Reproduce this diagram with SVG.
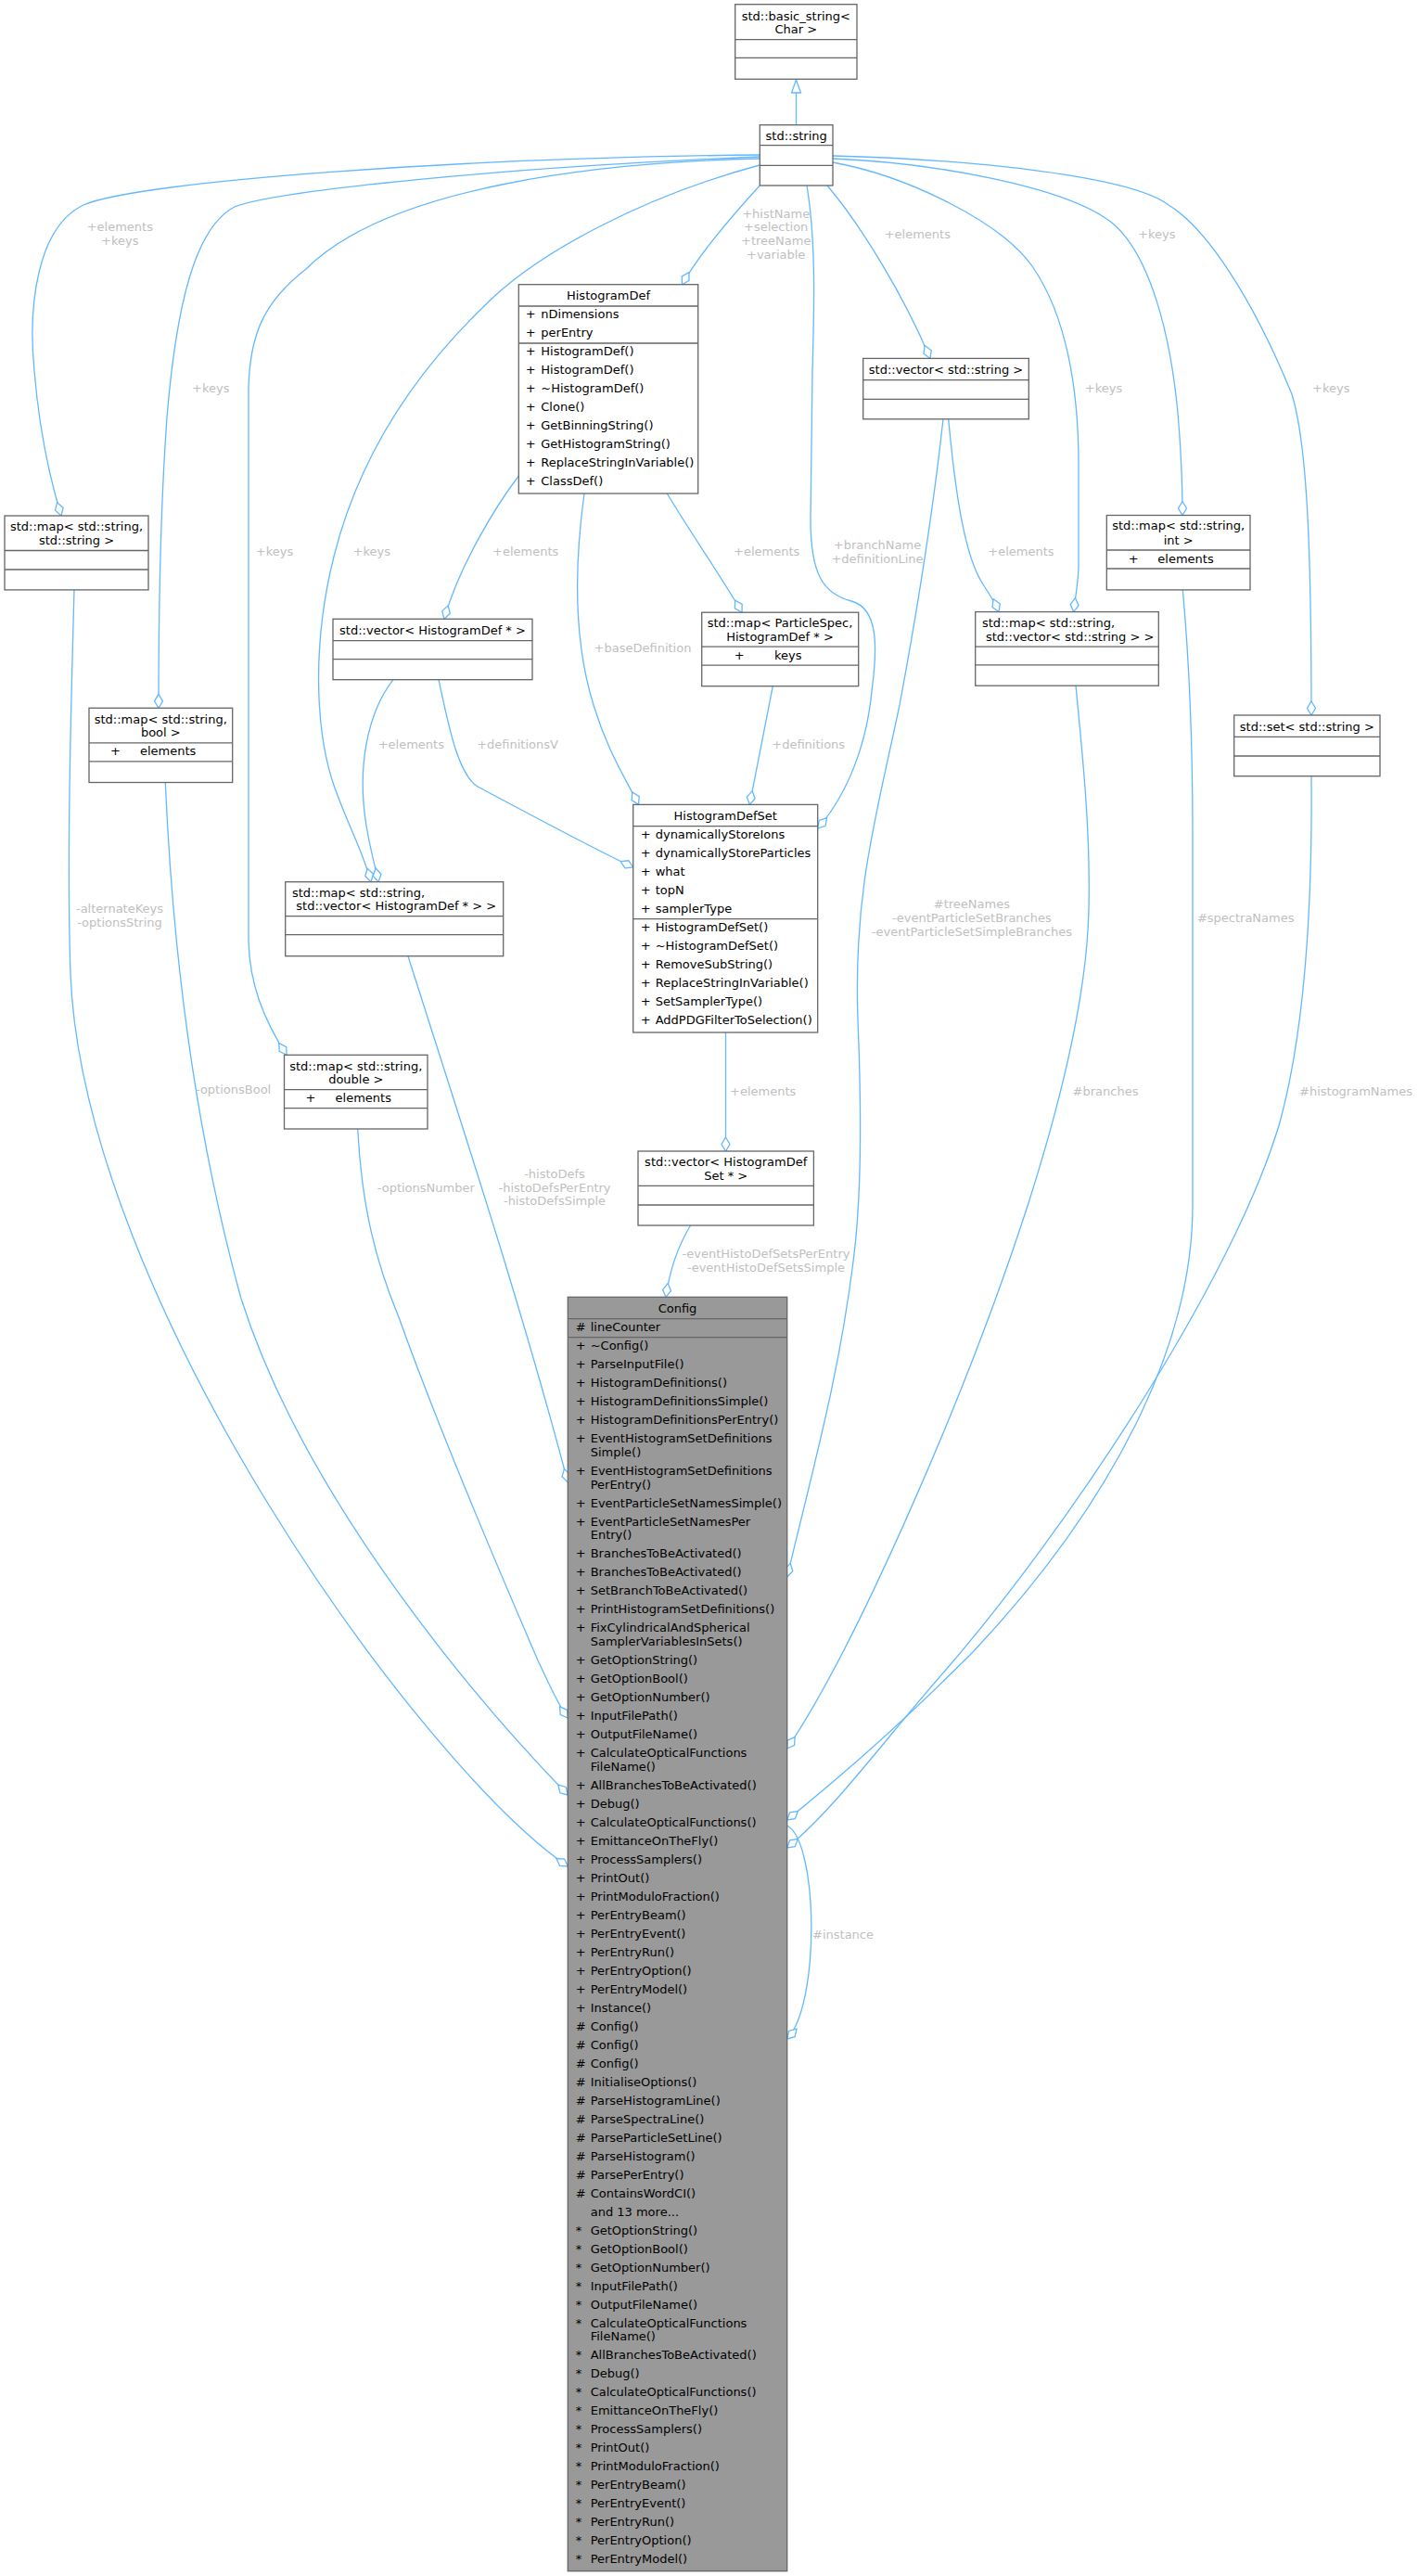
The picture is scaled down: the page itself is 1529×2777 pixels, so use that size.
<svg xmlns="http://www.w3.org/2000/svg" width="1529" height="2777" viewBox="0 0 1529 2777">
<style>
.bx{fill:#fff;stroke:#666;stroke-width:1.3}
.main{fill:#999;stroke:#666;stroke-width:1.3}
.sep{stroke:#666;stroke-width:1.3}
.t{font-family:"DejaVu Sans",sans-serif;font-size:13px;fill:#000}
.c{text-anchor:middle}
.lb{font-family:"DejaVu Sans",sans-serif;font-size:13px;fill:#c0c0c0;text-anchor:middle}
.e{fill:none;stroke:#63b8ff;stroke-width:1.3}
.ag{marker-end:url(#dia)}
</style>
<defs>
<marker id="dia" markerUnits="userSpaceOnUse" markerWidth="17" markerHeight="11" viewBox="0 0 17 11" refX="16" refY="5.5" orient="auto">
<path d="M1,5.5 L8.5,1 L16,5.5 L8.5,10 Z" fill="#fff" stroke="#63b8ff" stroke-width="1.3"/>
</marker>
<marker id="tri" markerUnits="userSpaceOnUse" markerWidth="16" markerHeight="12" viewBox="0 0 16 12" refX="15" refY="6" orient="auto">
<path d="M1,1 L15,6 L1,11 Z" fill="#fff" stroke="#63b8ff" stroke-width="1.3"/>
</marker>
</defs>
<rect width="1529" height="2777" fill="#fff"/>

<g id="edges">
<path class="e" marker-end="url(#tri)" d="M858.5,134.7 L858.5,86"/>
<path class="e ag" d="M819.3,200 C 790,232 755,272 735.5,306.7"/>
<path class="e ag" d="M819,167 C 500,170 150,195 90,221 C 40,245 30,330 37,400 C 42,460 52,510 66,556"/>
<path class="e ag" d="M819,169 C 550,180 300,205 253,223 C 210,245 190,330 180,450 C 172,560 171,680 171,763.3"/>
<path class="e ag" d="M819,171 C 650,175 420,200 330,290 C 285,325 269,360 268,420 L268,1010 C 268,1060 285,1100 309,1137.3"/>
<path class="e ag" d="M819,178 C 700,210 580,270 520,332 C 440,410 385,500 360,600 C 335,700 340,800 365,860 C 378,895 392,920 400,950.7"/>
<path class="e ag" d="M892,200 C 930,245 975,320 1003,386.4"/>
<path class="e ag" d="M870,200 C 880,260 878,330 876,400 L874,560 C 874,620 888,640 918,648 C 948,656 946,700 940,745 C 935,800 915,855 881.7,893"/>
<path class="e ag" d="M898,175 C 980,190 1080,240 1113,287 C 1150,340 1163,420 1163,500 L1163,610 C 1163,625 1160,640 1157.7,659.6"/>
<path class="e ag" d="M898,171 C 1000,175 1150,200 1200,241 C 1240,275 1262,360 1270,445 C 1274,490 1275,520 1275,555.5"/>
<path class="e ag" d="M898,168 C 1050,172 1220,190 1260,221 C 1300,245 1350,320 1393,425 C 1410,480 1414,600 1414,771"/>
<path class="e ag" d="M559.3,513 C 535,545 495,610 479,667.3"/>
<path class="e ag" d="M630,532 C 622,590 615,680 640,760 C 655,810 675,840 688.5,867.4"/>
<path class="e ag" d="M719.3,532 C 745,575 780,625 800,660.2"/>
<path class="e ag" d="M424,732.7 C 395,770 385,830 395,890 C 400,920 405,935 408,950.7"/>
<path class="e ag" d="M473,732.7 C 485,790 495,835 515,848 C 560,872 640,915 682.7,935"/>
<path class="e ag" d="M833.3,739.7 L808.3,867.4"/>
<path class="e ag" d="M1022.7,451.8 C 1030,530 1040,600 1060,630 C 1068,642 1073,650 1077,659.6"/>
<path class="e ag" d="M782.5,1113 L782.5,1241"/>
<path class="e ag" d="M744.6,1321 C 730,1345 722,1370 718,1398.3"/>
<path class="e ag" d="M440,1030.7 C 500,1220 560,1400 612.3,1598"/>
<path class="e ag" d="M385.7,1217 C 390,1300 405,1360 430,1420 C 480,1560 550,1720 580,1790 C 592,1815 600,1835 612.3,1852"/>
<path class="e ag" d="M178.3,843.5 C 185,1000 205,1200 260,1400 C 330,1620 520,1840 612.3,1935"/>
<path class="e ag" d="M80,635.9 C 76,780 72,930 76,1050 C 90,1400 450,1900 612.3,2012"/>
<path class="e ag" d="M1017,451.8 C 1005,560 985,680 970,760 C 945,880 920,960 925,1100 C 930,1220 928,1300 920,1360 C 905,1480 880,1570 848.7,1700"/>
<path class="e ag" d="M1160,739.2 C 1168,820 1176,900 1174,980 C 1172,1080 1140,1200 1108,1300 C 1040,1510 920,1780 848.7,1885"/>
<path class="e ag" d="M1275.3,635.9 C 1283,720 1286,800 1286,900 L1286,1300 C 1286,1450 1200,1620 1050,1780 C 960,1870 900,1920 848.7,1962"/>
<path class="e ag" d="M1414,836.7 C 1415,950 1410,1100 1380,1210 C 1330,1380 1150,1650 1020,1800 C 950,1880 900,1950 848.7,1992"/>
<path class="e ag" d="M848.7,1968 C 882,1985 885,2160 848.7,2198"/>
</g>

<g id="edge-labels">
<text class="lb" x="129.3" y="248.7">+elements</text>
<text class="lb" x="129.3" y="263.9">+keys</text>
<text class="lb" x="227.3" y="422.5">+keys</text>
<text class="lb" x="296" y="599.2">+keys</text>
<text class="lb" x="400.7" y="599.2">+keys</text>
<text class="lb" x="836.7" y="234.5">+histName</text>
<text class="lb" x="836.7" y="249.2">+selection</text>
<text class="lb" x="836.7" y="264.2">+treeName</text>
<text class="lb" x="836.7" y="278.8">+variable</text>
<text class="lb" x="989.3" y="257">+elements</text>
<text class="lb" x="1247.3" y="257.2">+keys</text>
<text class="lb" x="1190" y="423">+keys</text>
<text class="lb" x="1435.3" y="422.5">+keys</text>
<text class="lb" x="566.7" y="598.8">+elements</text>
<text class="lb" x="826.7" y="599.2">+elements</text>
<text class="lb" x="946" y="592">+branchName</text>
<text class="lb" x="946" y="606.6">+definitionLine</text>
<text class="lb" x="1101" y="599.1">+elements</text>
<text class="lb" x="693" y="702.8">+baseDefinition</text>
<text class="lb" x="558" y="807.2">+definitionsV</text>
<text class="lb" x="443.3" y="807.2">+elements</text>
<text class="lb" x="871.7" y="807.1">+definitions</text>
<text class="lb" x="1047.9" y="979.2">#treeNames</text>
<text class="lb" x="1047.9" y="993.8">-eventParticleSetBranches</text>
<text class="lb" x="1047.9" y="1008.8">-eventParticleSetSimpleBranches</text>
<text class="lb" x="1343.2" y="993.8">#spectraNames</text>
<text class="lb" x="129" y="984.3">-alternateKeys</text>
<text class="lb" x="129" y="999">-optionsString</text>
<text class="lb" x="251.6" y="1179">-optionsBool</text>
<text class="lb" x="822.7" y="1180.8">+elements</text>
<text class="lb" x="1192" y="1180.5">#branches</text>
<text class="lb" x="1462" y="1180.5">#histogramNames</text>
<text class="lb" x="459.3" y="1284.8">-optionsNumber</text>
<text class="lb" x="598" y="1270.2">-histoDefs</text>
<text class="lb" x="598" y="1284.8">-histoDefsPerEntry</text>
<text class="lb" x="598" y="1299.2">-histoDefsSimple</text>
<text class="lb" x="826" y="1356.2">-eventHistoDefSetsPerEntry</text>
<text class="lb" x="826" y="1370.8">-eventHistoDefSetsSimple</text>
<text class="lb" x="909" y="2089.8">#instance</text>
</g>

<g id="basic_string">
<rect class="bx" x="792.7" y="4.7" width="131.3" height="80.6"/>
<line class="sep" x1="792.7" y1="42.7" x2="924" y2="42.7"/>
<line class="sep" x1="792.7" y1="62.3" x2="924" y2="62.3"/>
<text class="t c" x="858.3" y="21.5">std::basic_string&lt;</text>
<text class="t c" x="858.3" y="36.2">Char &gt;</text>
</g>

<g id="std_string">
<rect class="bx" x="819.3" y="134.7" width="78.7" height="65.3"/>
<line class="sep" x1="819.3" y1="156.7" x2="898" y2="156.7"/>
<line class="sep" x1="819.3" y1="178.3" x2="898" y2="178.3"/>
<text class="t c" x="858.7" y="151.2">std::string</text>
</g>

<g id="HistogramDef">
<rect class="bx" x="559.3" y="306.7" width="193.4" height="225.3"/>
<line class="sep" x1="559.3" y1="330" x2="752.7" y2="330"/>
<line class="sep" x1="559.3" y1="370" x2="752.7" y2="370"/>
<text class="t c" x="656" y="322.8">HistogramDef</text>
<g class="t">
<text x="566.7" y="343.2">+</text><text x="583.3" y="343.2">nDimensions</text>
<text x="566.7" y="363.2">+</text><text x="583.3" y="363.2">perEntry</text>
<text x="566.7" y="383.2">+</text><text x="583.3" y="383.2">HistogramDef()</text>
<text x="566.7" y="403.2">+</text><text x="583.3" y="403.2">HistogramDef()</text>
<text x="566.7" y="423.2">+</text><text x="583.3" y="423.2">~HistogramDef()</text>
<text x="566.7" y="443.2">+</text><text x="583.3" y="443.2">Clone()</text>
<text x="566.7" y="463.2">+</text><text x="583.3" y="463.2">GetBinningString()</text>
<text x="566.7" y="483.2">+</text><text x="583.3" y="483.2">GetHistogramString()</text>
<text x="566.7" y="503.2">+</text><text x="583.3" y="503.2">ReplaceStringInVariable()</text>
<text x="566.7" y="523.2">+</text><text x="583.3" y="523.2">ClassDef()</text>
</g>
</g>

<g id="map_string_string">
<rect class="bx" x="5" y="556" width="155" height="79.9"/>
<line class="sep" x1="5" y1="593.5" x2="160" y2="593.5"/>
<line class="sep" x1="5" y1="614" x2="160" y2="614"/>
<text class="t c" x="82.5" y="571.7">std::map&lt; std::string,</text>
<text class="t c" x="82.5" y="586.5">std::string &gt;</text>
</g>

<g id="map_string_bool">
<rect class="bx" x="96" y="763.3" width="154.7" height="80.2"/>
<line class="sep" x1="96" y1="800.8" x2="250.7" y2="800.8"/>
<line class="sep" x1="96" y1="820.8" x2="250.7" y2="820.8"/>
<text class="t c" x="173.3" y="779.5">std::map&lt; std::string,</text>
<text class="t c" x="173.3" y="793.8">bool &gt;</text>
<text class="t" x="119" y="814.2">+</text><text class="t" x="151" y="814.2">elements</text>
</g>

<g id="vector_HistogramDef">
<rect class="bx" x="359" y="667.3" width="215" height="65.4"/>
<line class="sep" x1="359" y1="690.7" x2="574" y2="690.7"/>
<line class="sep" x1="359" y1="710.7" x2="574" y2="710.7"/>
<text class="t c" x="466.5" y="683.5">std::vector&lt; HistogramDef * &gt;</text>
</g>

<g id="map_string_vector_HistogramDef">
<rect class="bx" x="307.7" y="950.7" width="235" height="80"/>
<line class="sep" x1="307.7" y1="987.7" x2="542.7" y2="987.7"/>
<line class="sep" x1="307.7" y1="1007.7" x2="542.7" y2="1007.7"/>
<text class="t" x="315" y="966.8">std::map&lt; std::string,</text>
<text class="t" x="319.3" y="980.8">std::vector&lt; HistogramDef * &gt; &gt;</text>
</g>

<g id="map_ParticleSpec">
<rect class="bx" x="756.7" y="660.2" width="169" height="79.5"/>
<line class="sep" x1="756.7" y1="697.2" x2="925.7" y2="697.2"/>
<line class="sep" x1="756.7" y1="717.2" x2="925.7" y2="717.2"/>
<text class="t c" x="841" y="675.8">std::map&lt; ParticleSpec,</text>
<text class="t c" x="841" y="690.6">HistogramDef * &gt;</text>
<text class="t" x="791.7" y="711">+</text><text class="t" x="835" y="711">keys</text>
</g>

<g id="HistogramDefSet">
<rect class="bx" x="682.7" y="867.4" width="199" height="245.6"/>
<line class="sep" x1="682.7" y1="890.7" x2="881.7" y2="890.7"/>
<line class="sep" x1="682.7" y1="990.7" x2="881.7" y2="990.7"/>
<text class="t c" x="782.2" y="883.7">HistogramDefSet</text>
<g class="t">
<text x="690.7" y="904">+</text><text x="706.7" y="904">dynamicallyStoreIons</text>
<text x="690.7" y="924">+</text><text x="706.7" y="924">dynamicallyStoreParticles</text>
<text x="690.7" y="944">+</text><text x="706.7" y="944">what</text>
<text x="690.7" y="964">+</text><text x="706.7" y="964">topN</text>
<text x="690.7" y="984">+</text><text x="706.7" y="984">samplerType</text>
<text x="690.7" y="1004">+</text><text x="706.7" y="1004">HistogramDefSet()</text>
<text x="690.7" y="1024">+</text><text x="706.7" y="1024">~HistogramDefSet()</text>
<text x="690.7" y="1044">+</text><text x="706.7" y="1044">RemoveSubString()</text>
<text x="690.7" y="1064">+</text><text x="706.7" y="1064">ReplaceStringInVariable()</text>
<text x="690.7" y="1084">+</text><text x="706.7" y="1084">SetSamplerType()</text>
<text x="690.7" y="1104">+</text><text x="706.7" y="1104">AddPDGFilterToSelection()</text>
</g>
</g>

<g id="vector_string">
<rect class="bx" x="930.7" y="386.4" width="178.6" height="65.4"/>
<line class="sep" x1="930.7" y1="409.6" x2="1109.3" y2="409.6"/>
<line class="sep" x1="930.7" y1="430.4" x2="1109.3" y2="430.4"/>
<text class="t c" x="1020" y="403.1">std::vector&lt; std::string &gt;</text>
</g>

<g id="map_string_vector_string">
<rect class="bx" x="1051.7" y="659.6" width="197.6" height="79.6"/>
<line class="sep" x1="1051.7" y1="697.1" x2="1249.3" y2="697.1"/>
<line class="sep" x1="1051.7" y1="716.8" x2="1249.3" y2="716.8"/>
<text class="t" x="1059" y="676.3">std::map&lt; std::string,</text>
<text class="t" x="1063" y="690.6">std::vector&lt; std::string &gt; &gt;</text>
</g>

<g id="map_string_int">
<rect class="bx" x="1193.3" y="555.5" width="154.7" height="80.4"/>
<line class="sep" x1="1193.3" y1="593" x2="1348" y2="593"/>
<line class="sep" x1="1193.3" y1="613" x2="1348" y2="613"/>
<text class="t c" x="1270.7" y="571.4">std::map&lt; std::string,</text>
<text class="t c" x="1270.7" y="586.5">int &gt;</text>
<text class="t" x="1216.7" y="606.5">+</text><text class="t" x="1248.3" y="606.5">elements</text>
</g>

<g id="set_string">
<rect class="bx" x="1330.7" y="771" width="157.3" height="65.7"/>
<line class="sep" x1="1330.7" y1="794.3" x2="1488" y2="794.3"/>
<line class="sep" x1="1330.7" y1="815" x2="1488" y2="815"/>
<text class="t c" x="1409.3" y="787.8">std::set&lt; std::string &gt;</text>
</g>

<g id="map_string_double">
<rect class="bx" x="306.5" y="1137.3" width="154.5" height="79.7"/>
<line class="sep" x1="306.5" y1="1174.7" x2="461" y2="1174.7"/>
<line class="sep" x1="306.5" y1="1194.7" x2="461" y2="1194.7"/>
<text class="t c" x="383.8" y="1153.5">std::map&lt; std::string,</text>
<text class="t c" x="383.8" y="1167.8">double &gt;</text>
<text class="t" x="329.5" y="1187.8">+</text><text class="t" x="361.6" y="1187.8">elements</text>
</g>

<g id="vector_HistogramDefSet">
<rect class="bx" x="688" y="1241" width="189.4" height="80"/>
<line class="sep" x1="688" y1="1278.3" x2="877.4" y2="1278.3"/>
<line class="sep" x1="688" y1="1299" x2="877.4" y2="1299"/>
<text class="t c" x="782.7" y="1256.8">std::vector&lt; HistogramDef</text>
<text class="t c" x="782.7" y="1271.5">Set * &gt;</text>
</g>

<g id="Config">
<rect class="main" x="612.3" y="1398.3" width="236.4" height="1373.4"/>
<line class="sep" x1="612.3" y1="1421.7" x2="848.7" y2="1421.7"/>
<line class="sep" x1="612.3" y1="1441.7" x2="848.7" y2="1441.7"/>
<text class="t c" x="730.5" y="1415.2">Config</text>
<g class="t">
<text x="620.7" y="1434.5">#</text><text x="636.7" y="1434.5">lineCounter</text>
<text x="620.7" y="1455.2">+</text><text x="636.7" y="1455.2">~Config()</text>
<text x="620.7" y="1475.2">+</text><text x="636.7" y="1475.2">ParseInputFile()</text>
<text x="620.7" y="1495.2">+</text><text x="636.7" y="1495.2">HistogramDefinitions()</text>
<text x="620.7" y="1515.2">+</text><text x="636.7" y="1515.2">HistogramDefinitionsSimple()</text>
<text x="620.7" y="1535.2">+</text><text x="636.7" y="1535.2">HistogramDefinitionsPerEntry()</text>
<text x="620.7" y="1555.2">+</text><text x="636.7" y="1555.2">EventHistogramSetDefinitions</text>
<text x="636.7" y="1569.9">Simple()</text>
<text x="620.7" y="1589.9">+</text><text x="636.7" y="1589.9">EventHistogramSetDefinitions</text>
<text x="636.7" y="1604.5">PerEntry()</text>
<text x="620.7" y="1624.5">+</text><text x="636.7" y="1624.5">EventParticleSetNamesSimple()</text>
<text x="620.7" y="1644.5">+</text><text x="636.7" y="1644.5">EventParticleSetNamesPer</text>
<text x="636.7" y="1659.2">Entry()</text>
<text x="620.7" y="1679.2">+</text><text x="636.7" y="1679.2">BranchesToBeActivated()</text>
<text x="620.7" y="1699.2">+</text><text x="636.7" y="1699.2">BranchesToBeActivated()</text>
<text x="620.7" y="1719.2">+</text><text x="636.7" y="1719.2">SetBranchToBeActivated()</text>
<text x="620.7" y="1739.2">+</text><text x="636.7" y="1739.2">PrintHistogramSetDefinitions()</text>
<text x="620.7" y="1759.2">+</text><text x="636.7" y="1759.2">FixCylindricalAndSpherical</text>
<text x="636.7" y="1773.9">SamplerVariablesInSets()</text>
<text x="620.7" y="1793.9">+</text><text x="636.7" y="1793.9">GetOptionString()</text>
<text x="620.7" y="1813.9">+</text><text x="636.7" y="1813.9">GetOptionBool()</text>
<text x="620.7" y="1833.9">+</text><text x="636.7" y="1833.9">GetOptionNumber()</text>
<text x="620.7" y="1853.9">+</text><text x="636.7" y="1853.9">InputFilePath()</text>
<text x="620.7" y="1873.9">+</text><text x="636.7" y="1873.9">OutputFileName()</text>
<text x="620.7" y="1893.9">+</text><text x="636.7" y="1893.9">CalculateOpticalFunctions</text>
<text x="636.7" y="1908.5">FileName()</text>
<text x="620.7" y="1928.5">+</text><text x="636.7" y="1928.5">AllBranchesToBeActivated()</text>
<text x="620.7" y="1948.5">+</text><text x="636.7" y="1948.5">Debug()</text>
<text x="620.7" y="1968.5">+</text><text x="636.7" y="1968.5">CalculateOpticalFunctions()</text>
<text x="620.7" y="1988.5">+</text><text x="636.7" y="1988.5">EmittanceOnTheFly()</text>
<text x="620.7" y="2008.5">+</text><text x="636.7" y="2008.5">ProcessSamplers()</text>
<text x="620.7" y="2028.5">+</text><text x="636.7" y="2028.5">PrintOut()</text>
<text x="620.7" y="2048.5">+</text><text x="636.7" y="2048.5">PrintModuloFraction()</text>
<text x="620.7" y="2068.5">+</text><text x="636.7" y="2068.5">PerEntryBeam()</text>
<text x="620.7" y="2088.5">+</text><text x="636.7" y="2088.5">PerEntryEvent()</text>
<text x="620.7" y="2108.5">+</text><text x="636.7" y="2108.5">PerEntryRun()</text>
<text x="620.7" y="2128.5">+</text><text x="636.7" y="2128.5">PerEntryOption()</text>
<text x="620.7" y="2148.5">+</text><text x="636.7" y="2148.5">PerEntryModel()</text>
<text x="620.7" y="2168.5">+</text><text x="636.7" y="2168.5">Instance()</text>
<text x="620.7" y="2188.5">#</text><text x="636.7" y="2188.5">Config()</text>
<text x="620.7" y="2208.5">#</text><text x="636.7" y="2208.5">Config()</text>
<text x="620.7" y="2228.5">#</text><text x="636.7" y="2228.5">Config()</text>
<text x="620.7" y="2248.5">#</text><text x="636.7" y="2248.5">InitialiseOptions()</text>
<text x="620.7" y="2268.5">#</text><text x="636.7" y="2268.5">ParseHistogramLine()</text>
<text x="620.7" y="2288.5">#</text><text x="636.7" y="2288.5">ParseSpectraLine()</text>
<text x="620.7" y="2308.5">#</text><text x="636.7" y="2308.5">ParseParticleSetLine()</text>
<text x="620.7" y="2328.5">#</text><text x="636.7" y="2328.5">ParseHistogram()</text>
<text x="620.7" y="2348.5">#</text><text x="636.7" y="2348.5">ParsePerEntry()</text>
<text x="620.7" y="2368.5">#</text><text x="636.7" y="2368.5">ContainsWordCI()</text>
<text x="636.7" y="2388.5">and 13 more...</text>
<text x="620.7" y="2408.5">*</text><text x="636.7" y="2408.5">GetOptionString()</text>
<text x="620.7" y="2428.5">*</text><text x="636.7" y="2428.5">GetOptionBool()</text>
<text x="620.7" y="2448.5">*</text><text x="636.7" y="2448.5">GetOptionNumber()</text>
<text x="620.7" y="2468.5">*</text><text x="636.7" y="2468.5">InputFilePath()</text>
<text x="620.7" y="2488.5">*</text><text x="636.7" y="2488.5">OutputFileName()</text>
<text x="620.7" y="2508.5">*</text><text x="636.7" y="2508.5">CalculateOpticalFunctions</text>
<text x="636.7" y="2523.2">FileName()</text>
<text x="620.7" y="2543.2">*</text><text x="636.7" y="2543.2">AllBranchesToBeActivated()</text>
<text x="620.7" y="2563.2">*</text><text x="636.7" y="2563.2">Debug()</text>
<text x="620.7" y="2583.2">*</text><text x="636.7" y="2583.2">CalculateOpticalFunctions()</text>
<text x="620.7" y="2603.2">*</text><text x="636.7" y="2603.2">EmittanceOnTheFly()</text>
<text x="620.7" y="2623.2">*</text><text x="636.7" y="2623.2">ProcessSamplers()</text>
<text x="620.7" y="2643.2">*</text><text x="636.7" y="2643.2">PrintOut()</text>
<text x="620.7" y="2663.2">*</text><text x="636.7" y="2663.2">PrintModuloFraction()</text>
<text x="620.7" y="2683.2">*</text><text x="636.7" y="2683.2">PerEntryBeam()</text>
<text x="620.7" y="2703.2">*</text><text x="636.7" y="2703.2">PerEntryEvent()</text>
<text x="620.7" y="2723.2">*</text><text x="636.7" y="2723.2">PerEntryRun()</text>
<text x="620.7" y="2743.2">*</text><text x="636.7" y="2743.2">PerEntryOption()</text>
<text x="620.7" y="2763.2">*</text><text x="636.7" y="2763.2">PerEntryModel()</text>
</g>
</g>
</svg>
